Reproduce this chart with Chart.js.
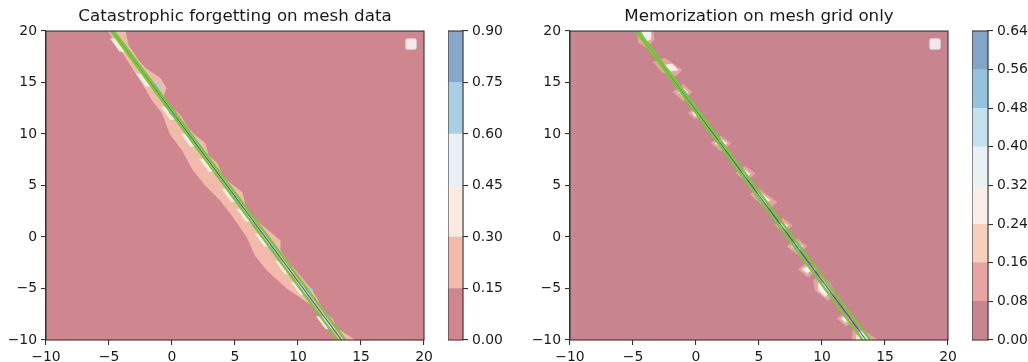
<!DOCTYPE html>
<html><head><meta charset="utf-8">
<script src="https://cdn.jsdelivr.net/npm/chart.js@4.4.0/dist/chart.umd.min.js"></script>
<style>
html,body{margin:0;padding:0;background:#fff;width:1028px;height:362px;overflow:hidden}
canvas{position:absolute;top:0}
</style></head><body>
<canvas id="c1" width="440" height="362" style="left:0px"></canvas>
<canvas id="cb1" width="60" height="362" style="left:448px"></canvas>
<canvas id="c2" width="440" height="362" style="left:524px"></canvas>
<canvas id="cb2" width="56" height="362" style="left:972px"></canvas>
<script>
const titleLeft = 'Catastrophic forgetting on mesh data';
const titleRight = 'Memorization on mesh grid only';
const axisMin = -10, axisMax = 20, axisStep = 5;

const levelsLeft = [0, 0.15, 0.30, 0.45, 0.60, 0.75, 0.90];
const colorsLeft = ['#d0868f', '#f1baab', '#fbeae2', '#e8f0f5', '#aacfe4', '#87a8cb'];
const levelsRight = [0, 0.08, 0.16, 0.24, 0.32, 0.40, 0.48, 0.56, 0.64];
const colorsRight = ['#c8848f', '#e7a4a2', '#f7d0bd', '#f9efea', '#eaf1f5', '#c6e0ee', '#94c3de', '#82a5c8'];

const domain = [[-10,-10],[20,-10],[20,20],[-10,20]];

// left panel: 0.15-0.30 band
const leftBand = [
 [-5.06,20],[-3.55,17.18],[-2.36,14.94],[-1.57,13.29],[-0.78,12.02],[-0.14,9.98],[0.81,8.43],
 [1.68,6.48],[2.63,5.02],[3.82,3.56],[4.77,2.10],[5.96,-0.04],[6.60,-1.79],[7.55,-3.25],
 [9.13,-5.0],[11.12,-6.65],[12.31,-8.11],[13.1,-10],
 [14.53,-10],[13.10,-8.89],[12.70,-7.92],[11.91,-7.14],[11.59,-6.17],[11.11,-5.19],[10.16,-3.74],
 [9.21,-2.47],[8.58,-1.30],[8.58,-0.33],[7.15,1.13],[6.20,2.10],[5.81,3.07],[5.57,4.34],
 [4.61,5.21],[3.98,5.99],[3.58,7.16],[2.87,7.94],[2.63,9.11],[1.84,9.88],[1.28,10.56],
 [0.65,11.83],[0.02,12.51],[-0.78,13.29],[-0.46,14.46],[-0.94,15.43],[-2.13,16.40],
 [-2.68,17.18],[-3.47,18.64],[-3.70,20]
];
// left panel: 0.30-0.45 patches
const leftWhite = [
 [[-4.91,19.24],[-4.33,19.24],[-3.60,18.04],[-4.18,18.04]],
 [[-2.84,15.83],[-2.26,15.83],[-1.53,14.63],[-2.11,14.63]],
 [[-0.89,12.62],[-0.31,12.62],[0.42,11.42],[-0.16,11.42]],
 [[0.70,10.0],[1.28,10.0],[2.01,8.8],[1.43,8.8]],
 [[2.17,7.57],[2.75,7.57],[3.48,6.37],[2.90,6.37]],
 [[3.94,4.65],[4.52,4.65],[5.25,3.45],[4.67,3.45]],
 [[5.13,2.7],[5.71,2.7],[6.43,1.5],[5.85,1.5]],
 [[6.60,0.27],[7.18,0.27],[7.91,-0.93],[7.33,-0.93]],
 [[8.20,-2.36],[8.78,-2.36],[9.50,-3.56],[8.92,-3.56]],
 [[9.44,-4.4],[10.02,-4.4],[10.74,-5.6],[10.16,-5.6]],
 [[11.44,-7.71],[12.02,-7.71],[12.75,-8.91],[12.17,-8.91]]
];
// left panel: 0.60-0.75 spots
const leftBlue = [
 [[-1.39,14.65],[-1.09,15.0],[-0.79,14.65],[-1.09,14.3]],
 [[1.62,9.2],[1.92,9.55],[2.22,9.2],[1.92,8.85]],
 [[4.79,3.75],[5.09,4.1],[5.39,3.75],[5.09,3.4]],
 [[7.65,-1.11],[7.95,-0.76],[8.25,-1.11],[7.95,-1.46]],
 [[10.6,-5.2],[10.9,-4.85],[11.2,-5.2],[10.9,-5.55]],
 [[-0.28,12.02],[0.02,12.37],[0.32,12.02],[0.02,11.67]]
];
const leftGreenA = [[-4.84,20],[13.16,-10]];
const leftGreenB = [[-4.62,20],[13.76,-10]];
const leftBlueLine = [[-4.74,20],[13.45,-10]];

// right panel patches
const rightRim = [
 [[-4.7,20],[-3.4,20],[-3.3,19.2],[-3.9,18.4],[-4.6,18.9]],
 [[-3.41,16.98],[-2.46,17.37],[-1.11,16.21],[-1.59,15.62],[-2.70,16.01]],
 [[-1.83,14.07],[-1.03,14.84],[-0.32,14.07],[-1.03,13.19]],
 [[-0.63,12.02],[0.0,12.51],[0.48,11.93],[-0.08,11.44]],
 [[1.19,9.11],[1.98,9.79],[2.78,9.11],[1.98,8.33]],
 [[3.17,6.19],[3.89,6.87],[4.68,6.19],[3.97,5.41]],
 [[4.29,4.14],[4.92,4.73],[6.43,3.37],[5.87,2.78],[5.08,3.27]],
 [[6.27,1.13],[6.90,1.81],[7.62,1.13],[6.98,0.35]],
 [[7.22,-0.91],[8.02,-0.14],[8.81,-0.91],[8.02,-1.69]],
 [[8.10,-3.15],[8.81,-2.47],[9.60,-3.15],[8.89,-3.93]],
 [[9.29,-4.22],[9.84,-3.74],[10.63,-4.42],[11.03,-5.39],[10.48,-6.17],[9.44,-5.19]],
 [[11.19,-7.92],[11.75,-7.43],[12.46,-8.11],[11.90,-8.70]],
 [[12.38,-10],[12.46,-9.09],[13.02,-8.89],[14.44,-10]]
];
const rightInner = [
 [[-4.3,20],[-3.6,20],[-3.6,19.2],[-4.1,18.9]],
 [[-2.54,16.69],[-1.90,16.79],[-1.43,16.21],[-2.06,16.11]],
 [[-1.43,14.07],[-1.03,14.46],[-0.63,14.07],[-1.03,13.58]],
 [[-0.32,12.02],[0,12.21],[0.24,11.93],[-0.08,11.73]],
 [[1.51,9.11],[1.98,9.49],[2.46,9.11],[1.98,8.72]],
 [[3.57,6.19],[3.89,6.48],[4.29,6.09],[3.89,5.80]],
 [[4.68,4.14],[5.08,4.34],[5.87,3.56],[5.48,3.27]],
 [[6.59,1.13],[6.90,1.42],[7.30,1.13],[6.98,0.74]],
 [[7.54,-0.91],[8.02,-0.53],[8.49,-0.91],[8.02,-1.30]],
 [[8.41,-3.15],[8.81,-2.86],[9.21,-3.15],[8.81,-3.54]],
 [[9.68,-4.51],[10.16,-4.42],[10.63,-5.39],[10.24,-5.78],[9.68,-5.10]],
 [[11.51,-7.92],[11.83,-7.72],[12.14,-8.11],[11.83,-8.31]],
 [[12.70,-10],[12.78,-9.38],[13.17,-9.18],[13.97,-10]]
];
const rightCore = [
 [[-1.19,14.07],[-0.95,14.26],[-0.71,14.07],[-0.95,13.77]],
 [[1.75,9.01],[1.98,9.30],[2.22,9.01],[1.98,8.81]],
 [[7.78,-0.91],[8.02,-0.62],[8.25,-0.91],[8.02,-1.21]]
];
const rightGreenA = [[-4.77,20],[13.22,-10]];
const rightGreenB = [[-4.57,20],[13.83,-10]];
const rightBlueLine = [[-4.68,20],[13.5,-10]];

const FONT = 'DejaVu Sans';
const TXT = '#1a1a1a';
const AX = '#333333';
const GREEN = '#78c83a';
const DARKBLUE = 'rgba(40,90,150,0.85)';

const toPts = a => a.map(p => ({x: p[0], y: p[1]}));
const poly = (pts, color, order) => ({data: toPts(pts), showLine: true, fill: 'shape', backgroundColor: color,
  borderColor: color, borderWidth: 0.6, pointRadius: 0, order});
const line = (pts, color, w, order) => ({data: toPts(pts), showLine: true, fill: false,
  borderColor: color, borderWidth: w, pointRadius: 0, order});
const minus = v => String(v).replace('-', '\u2212');

const framePlugin = {
  id: 'frame',
  afterDraw(chart, args, opts) {
    const a = chart.chartArea, ctx = chart.ctx;
    ctx.save();
    if (opts.legendBox) {
      const x = a.right - 18.5, y = a.top + 7.5, w = 11, h = 11, r = 2;
      ctx.beginPath();
      ctx.moveTo(x + r, y); ctx.lineTo(x + w - r, y); ctx.quadraticCurveTo(x + w, y, x + w, y + r);
      ctx.lineTo(x + w, y + h - r); ctx.quadraticCurveTo(x + w, y + h, x + w - r, y + h);
      ctx.lineTo(x + r, y + h); ctx.quadraticCurveTo(x, y + h, x, y + h - r);
      ctx.lineTo(x, y + r); ctx.quadraticCurveTo(x, y, x + r, y);
      ctx.fillStyle = 'rgba(255,255,255,0.8)'; ctx.fill();
      ctx.strokeStyle = 'rgba(204,204,204,0.8)'; ctx.lineWidth = 1; ctx.stroke();
    }
    ctx.strokeStyle = AX; ctx.lineWidth = 1.1;
    ctx.strokeRect(a.left, a.top, a.right - a.left, a.bottom - a.top);
    ctx.restore();
  }
};

function axis(isX) {
  return {
    type: 'linear', min: axisMin, max: axisMax,
    ticks: {stepSize: axisStep, font: {family: FONT, size: 13.9}, color: TXT, padding: 4, callback: v => minus(v), maxRotation: 0},
    grid: {drawOnChartArea: false, drawTicks: true, tickLength: 5, color: AX, lineWidth: 1.1},
    border: {display: true, color: AX, width: 1.1},
    afterFit: s => { if (isX) s.height = 22; else s.width = 46; }
  };
}

function mainChart(id, title, datasets) {
  return new Chart(document.getElementById(id), {
    type: 'line',
    data: {datasets},
    options: {
      responsive: false, animation: false, devicePixelRatio: 1,
      layout: {padding: {left: 0, right: 16, top: 0, bottom: 0}},
      scales: {x: axis(true), y: axis(false)},
      plugins: {
        legend: {display: false}, tooltip: {enabled: false},
        title: {display: true, text: title, fullSize: false, color: TXT,
          font: {family: FONT, size: 16.7, weight: 'normal', lineHeight: 1.2}, padding: {top: 7, bottom: 4}},
        frame: {legendBox: true}
      }
    },
    plugins: [framePlugin]
  });
}

function colorbar(id, levels, colors, step, scaleWidth) {
  const datasets = colors.map((c, i) => ({data: [[levels[i], levels[i + 1]]], backgroundColor: c,
    borderWidth: 0, barPercentage: 1, categoryPercentage: 1, grouped: false}));
  return new Chart(document.getElementById(id), {
    type: 'bar',
    data: {labels: ['cb'], datasets},
    options: {
      responsive: false, animation: false, devicePixelRatio: 1,
      layout: {padding: {left: 0, right: 0, top: 31, bottom: 22}},
      scales: {
        x: {display: false},
        y: {position: 'right', min: levels[0], max: levels[levels.length - 1],
          ticks: {stepSize: step, font: {family: FONT, size: 13.9}, color: TXT, padding: 4, callback: v => v.toFixed(2)},
          grid: {drawOnChartArea: false, drawTicks: true, tickLength: 5, color: AX, lineWidth: 1.1},
          border: {display: true, color: AX, width: 1.1},
          afterFit: s => { s.width = scaleWidth; }}
      },
      plugins: {legend: {display: false}, tooltip: {enabled: false}, frame: {legendBox: false}}
    },
    plugins: [framePlugin]
  });
}

const leftSets = [poly(domain, colorsLeft[0], 100), poly(leftBand, colorsLeft[1], 90)]
  .concat(leftWhite.map(p => poly(p, colorsLeft[2], 80)))
  .concat(leftBlue.map(p => poly(p, colorsLeft[4], 70)))
  .concat([line(leftBlueLine, DARKBLUE, 1.2, 30), line(leftGreenA, GREEN, 2.4, 20), line(leftGreenB, GREEN, 2.4, 19)]);

const rightSets = [poly(domain, colorsRight[0], 100)]
  .concat(rightRim.map(p => poly(p, colorsRight[1], 90)))
  .concat(rightInner.map(p => poly(p, colorsRight[3], 80)))
  .concat(rightCore.map(p => poly(p, colorsRight[6], 70)))
  .concat([line(rightBlueLine, DARKBLUE, 1.2, 30), line(rightGreenA, GREEN, 2.4, 20), line(rightGreenB, GREEN, 2.4, 19)]);

mainChart('c1', titleLeft, leftSets);
mainChart('c2', titleRight, rightSets);
colorbar('cb1', levelsLeft, colorsLeft, 0.15, 45);
colorbar('cb2', levelsRight, colorsRight, 0.08, 40);
</script>
</body></html>
